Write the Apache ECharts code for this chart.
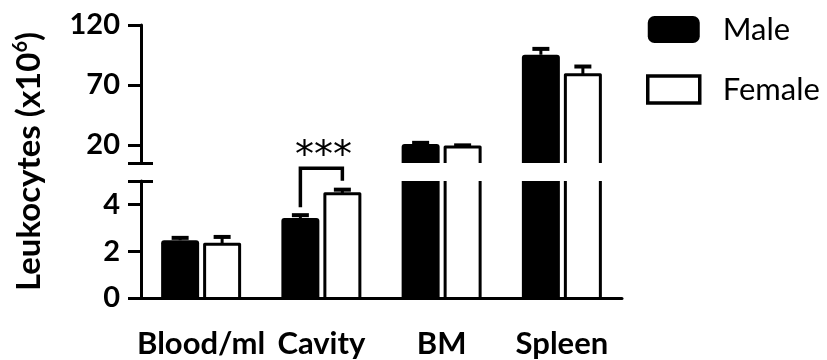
<!DOCTYPE html>
<html>
<head>
<meta charset="utf-8">
<script src="https://cdn.jsdelivr.net/npm/echarts@6/dist/echarts.min.js"></script>
<style>html,body{margin:0;padding:0;background:#fff}#c{width:827px;height:360px}</style>
</head>
<body>
<div id="c"></div>
<script>
const categories = ['Blood/ml', 'Cavity', 'BM', 'Spleen'];
const maleMean = [2.47, 3.42, 20.8, 95.2];
const maleErr = [0.10, 0.12, 1.0, 4.9];
const femaleMean = [2.30, 4.45, 18.4, 78.6];
const femaleErr = [0.31, 0.18, 1.3, 6.8];
const upperTicks = [20, 70, 120];
const lowerTicks = [0, 2, 4];
const upperRange = [5, 120];
const lowerRange = [0, 5];
const significance = [{ category: 'Cavity', label: '***', level: 5.55 }];

const FONT = 'Lato';

function rows(mean, err) {
  return categories.map((c, i) => [i, mean[i], err[i]]);
}

function makeBar(range, side) {
  const segMin = range[0], segMax = range[1];
  return function (params, api) {
    const idx = api.value(0), mean = api.value(1), err = api.value(2);
    if (mean <= segMin) return;
    const band = api.size([1, 0])[0];
    const cx = api.coord([idx, segMin])[0] + side * 0.1746 * band;
    const w = 0.316 * band;
    const clipped = mean > segMax;
    const yTop = api.coord([idx, Math.min(mean, segMax)])[1];
    const yBot = api.coord([idx, segMin])[1];
    const children = [];
    if (side < 0) {
      children.push({ type: 'rect', shape: { x: cx - w / 2, y: yTop, width: w, height: yBot - yTop, r: clipped ? 0 : [3, 3, 0, 0] }, style: { fill: '#000' } });
    } else {
      children.push({ type: 'rect', shape: { x: cx - w / 2, y: yTop, width: w, height: yBot - yTop }, style: { fill: '#fff' } });
      const lw = 3, xl = cx - w / 2 + lw / 2, xr = cx + w / 2 - lw / 2;
      const st = { stroke: '#000', lineWidth: lw, fill: null, lineJoin: 'round' };
      if (clipped) {
        children.push({ type: 'line', shape: { x1: xl, y1: yBot, x2: xl, y2: yTop }, style: st });
        children.push({ type: 'line', shape: { x1: xr, y1: yBot, x2: xr, y2: yTop }, style: st });
      } else {
        children.push({ type: 'polyline', shape: { points: [[xl, yBot], [xl, yTop], [xr, yTop], [xr, yBot]] }, style: st });
      }
    }
    if (!clipped) {
      const yErr = api.coord([idx, mean + err])[1];
      children.push({ type: 'line', shape: { x1: cx, y1: yTop, x2: cx, y2: yErr }, style: { stroke: '#000', lineWidth: 3 } });
      children.push({ type: 'line', shape: { x1: cx - 8.5, y1: yErr, x2: cx + 8.5, y2: yErr }, style: { stroke: '#000', lineWidth: 4 } });
    }
    return { type: 'group', children };
  };
}

function renderBracket(params, api) {
  const s = significance[params.dataIndex];
  const idx = categories.indexOf(s.category);
  const band = api.size([1, 0])[0];
  const c = api.coord([idx, s.level]);
  const xm = c[0] - 0.1746 * band, xf = c[0] + 0.1746 * band;
  const yTop = c[1];
  const ym = api.coord([idx, maleMean[idx] + maleErr[idx]])[1] - 8;
  const yf = api.coord([idx, femaleMean[idx] + femaleErr[idx]])[1] - 9;
  return {
    type: 'group',
    children: [
      { type: 'polyline', shape: { points: [[xm, ym], [xm, yTop], [xf, yTop], [xf, yf]] }, style: { stroke: '#000', lineWidth: 3.5, fill: null } },
      { type: 'text', x: (xm + xf) / 2 + 2, y: yTop - 11, style: { text: s.label, fill: '#000', font: '38px "DejaVu Sans"', align: 'center', verticalAlign: 'middle' } }
    ]
  };
}

const axisLineStyle = { lineStyle: { color: '#000', width: 3 } };
const tickStyle = { color: '#000', width: 3 };
const labelStyle = { color: '#000', fontFamily: FONT, fontWeight: 'bold', fontSize: 29 };

const option = {
  animation: false,
  backgroundColor: '#fff',
  grid: [
    { left: 141, right: 205, top: 25, height: 138 },
    { left: 141, right: 205, top: 181, height: 117 },
    { left: 141, right: 205, top: 25, height: 273 }
  ],
  xAxis: [
    { type: 'category', gridIndex: 0, data: categories, show: false },
    {
      type: 'category', gridIndex: 1, data: categories, z: 10,
      axisLine: axisLineStyle,
      axisTick: { alignWithLabel: true, length: 13, lineStyle: tickStyle },
      axisLabel: Object.assign({ margin: 30, interval: 0, hideOverlap: false }, labelStyle, { fontSize: 31 })
    },
    { type: 'category', gridIndex: 2, data: categories, show: false }
  ],
  yAxis: [
    {
      type: 'value', gridIndex: 0, min: upperRange[0], max: upperRange[1], position: 'left', z: 10,
      axisLine: { show: true, lineStyle: { color: '#000', width: 3 } },
      axisTick: { show: true, length: 13, lineStyle: tickStyle, customValues: [upperRange[0]].concat(upperTicks) },
      axisLabel: Object.assign({ margin: 21, customValues: upperTicks }, labelStyle),
      splitLine: { show: false }
    },
    {
      type: 'value', gridIndex: 0, min: upperRange[0], max: upperRange[1], position: 'left', offset: 0, z: 10,
      axisLine: { show: false },
      axisTick: { show: true, inside: true, length: 12, lineStyle: tickStyle, customValues: [upperRange[0]] },
      axisLabel: { show: false },
      splitLine: { show: false }
    },
    {
      type: 'value', gridIndex: 1, min: lowerRange[0], max: lowerRange[1], position: 'left', z: 10,
      axisLine: { show: true, lineStyle: { color: '#000', width: 3 } },
      axisTick: { show: true, length: 13, lineStyle: tickStyle, customValues: lowerTicks.concat([lowerRange[1]]) },
      axisLabel: Object.assign({ margin: 21, customValues: lowerTicks }, labelStyle),
      splitLine: { show: false }
    },
    {
      type: 'value', gridIndex: 1, min: lowerRange[0], max: lowerRange[1], position: 'left', offset: 0, z: 10,
      axisLine: { show: false },
      axisTick: { show: true, inside: true, length: 12, lineStyle: tickStyle, customValues: [lowerRange[1]] },
      axisLabel: { show: false },
      splitLine: { show: false }
    },
    {
      type: 'value', gridIndex: 2, position: 'left',
      axisLine: { show: false }, axisTick: { show: false }, axisLabel: { show: false }, splitLine: { show: false },
      name: '{a|Leukocytes (x10}{s|6}{a|)}',
      nameLocation: 'middle', nameRotate: 90, nameGap: 94,
      nameTextStyle: {
        rich: {
          a: { fontFamily: FONT, fontWeight: 'bold', fontSize: 33, color: '#000' },
          s: { fontFamily: FONT, fontWeight: 'bold', fontSize: 20, color: '#000', verticalAlign: 'top', padding: [0, 0, 16, 0] }
        }
      }
    }
  ],
  legend: {
    orient: 'vertical', left: 641, top: 9, itemWidth: 52, itemHeight: 27, itemGap: 29,
    selectedMode: false,
    textStyle: { fontFamily: FONT, fontSize: 31, lineHeight: 27, color: '#000', padding: [0, 0, 0, 18] },
    data: [
      { name: 'Male', icon: 'roundRect', itemStyle: { color: '#000', borderWidth: 0 } },
      { name: 'Female', icon: 'rect', itemStyle: { color: '#fff', borderColor: '#000', borderWidth: 3.5 } }
    ]
  },
  series: [
    { name: 'Male', type: 'custom', xAxisIndex: 0, yAxisIndex: 0, renderItem: makeBar(upperRange, -1), data: rows(maleMean, maleErr), encode: { x: 0, y: 1 }, itemStyle: { color: '#000' } },
    { name: 'Female', type: 'custom', xAxisIndex: 0, yAxisIndex: 0, renderItem: makeBar(upperRange, 1), data: rows(femaleMean, femaleErr), encode: { x: 0, y: 1 }, itemStyle: { color: '#fff' } },
    { name: 'Male', type: 'custom', xAxisIndex: 1, yAxisIndex: 2, renderItem: makeBar(lowerRange, -1), data: rows(maleMean, maleErr), encode: { x: 0, y: 1 }, itemStyle: { color: '#000' } },
    { name: 'Female', type: 'custom', xAxisIndex: 1, yAxisIndex: 2, renderItem: makeBar(lowerRange, 1), data: rows(femaleMean, femaleErr), encode: { x: 0, y: 1 }, itemStyle: { color: '#fff' } },
    { name: 'sig', type: 'custom', xAxisIndex: 1, yAxisIndex: 2, renderItem: renderBracket, data: significance.map(s => [categories.indexOf(s.category), s.level]), encode: { x: 0, y: 1 }, clip: false, silent: true }
  ]
};

const chart = echarts.init(document.getElementById('c'), null, { renderer: 'canvas' });
chart.setOption(option);
</script>
</body>
</html>
